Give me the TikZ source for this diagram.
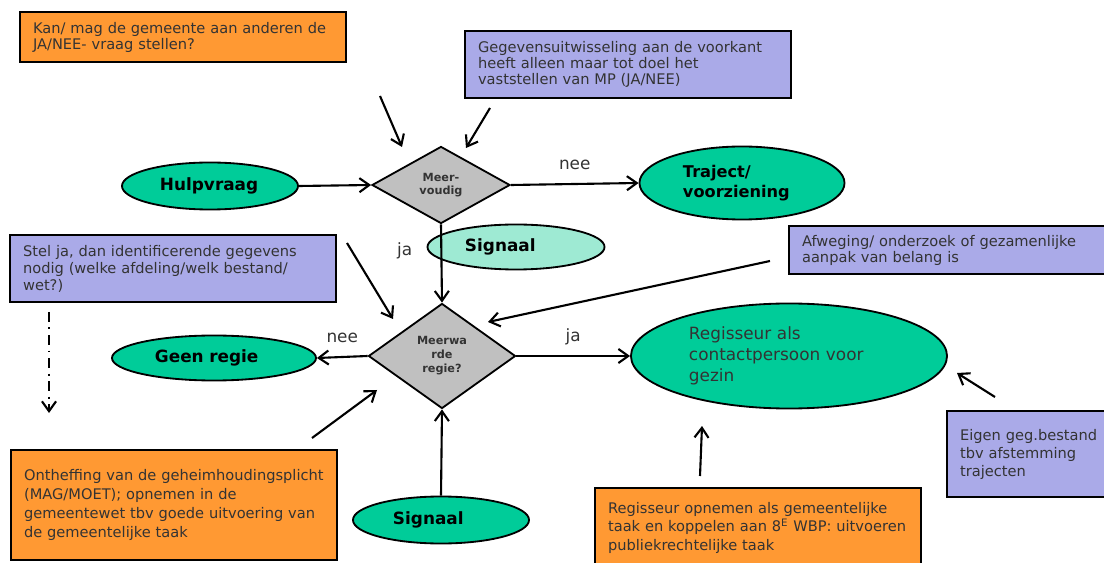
\documentclass[tikz,border=0pt]{standalone}
\usepackage{fontspec}
\setmainfont{DejaVu Sans}
\usetikzlibrary{arrows.meta,shapes.geometric}
\tikzset{>={Straight Barb[length=7pt,width=10pt]}}
\definecolor{oranje}{HTML}{FF9933}
\definecolor{paars}{HTML}{AAAAE8}
\definecolor{groen}{HTML}{00CC99}
\definecolor{lichtgroen}{HTML}{9EEAD3}
\definecolor{grijs}{HTML}{C0C0C0}
\definecolor{tekst}{HTML}{333333}
\tikzstyle{box} = [rectangle, draw=black, line width=1.5pt, anchor=north west, align=left, text width=7.5cm, inner xsep=0.325cm, inner ysep=0pt, text=tekst, font=\fontsize{10.4}{11.5}\selectfont]
\tikzstyle{oranjebox} = [box, fill=oranje]
\tikzstyle{paarsbox} = [box, fill=paars]
\tikzstyle{ovaal} = [ellipse, draw=black, line width=1.3pt, fill=groen, inner sep=0pt, align=left, font=\fontsize{12}{14}\selectfont\bfseries]
\tikzstyle{ruit} = [diamond, draw=black, line width=1.3pt, fill=grijs, inner sep=0pt, align=center, text=tekst, font=\fontsize{8}{9.5}\selectfont\bfseries]
\tikzstyle{arrow} = [line width=1.5pt, ->]
\tikzstyle{lbl} = [inner sep=0pt, text=tekst, font=\fontsize{12}{14}\selectfont]

\begin{document}
\begin{tikzpicture}[x=0.025cm, y=-0.025cm]

\path[use as bounding box, fill=white] (0,0) rectangle (1104,563);

% tekstvakken
\node (kanvraag) [oranjebox, minimum height=1.25cm] at (19,11) {Kan/ mag de gemeente aan anderen de\\JA/NEE- vraag stellen?};
\node (voorkant) [paarsbox, minimum height=1.675cm] at (464,30) {Gegevensuitwisseling aan de voorkant\\heeft alleen maar tot doel het\\vaststellen van MP (JA/NEE)};
\node (identificeren) [paarsbox, minimum height=1.675cm, font=\fontsize{10.4}{12}\selectfont] at (9,234) {Stel ja, dan identificerende gegevens\\nodig (welke afdeling/welk bestand/\\wet?)};
\node (afweging) [paarsbox, minimum height=1.2cm] at (788,225) {Afweging/ onderzoek of gezamenlijke\\aanpak van belang is};
\node (ontheffing) [oranjebox, minimum height=2.75cm, font=\fontsize{10.4}{13.5}\selectfont] at (10,449) {Ontheffing van de geheimhoudingsplicht\\(MAG/MOET); opnemen in de\\gemeentewet tbv goede uitvoering van\\de gemeentelijke taak};
\node (taak) [oranjebox, minimum height=1.975cm, font=\fontsize{10.4}{13.2}\selectfont] at (594,487) {Regisseur opnemen als gemeentelijke\\taak en koppelen aan 8\textsuperscript{E} WBP: uitvoeren\\publiekrechtelijke taak};
\node (eigen) [paarsbox, text width=3.6cm, minimum height=2.15cm, font=\fontsize{10.4}{12.8}\selectfont] at (946,410) {Eigen geg.bestand\\tbv afstemming\\trajecten};

% ovalen
\node (hulpvraag) [ovaal, minimum width=4.4cm, minimum height=1.175cm, text width=2.5cm] at (210,186) {Hulpvraag};
\node (traject) [ovaal, minimum width=5.125cm, minimum height=1.825cm, text width=2.95cm, font=\fontsize{11.5}{14}\selectfont\bfseries] at (742,183) {Traject/\\voorziening};
\node (signaal1) [ovaal, fill=lichtgroen, minimum width=4.425cm, minimum height=1.125cm, text width=2.55cm] at (516,247) {Signaal};
\node (geenregie) [ovaal, minimum width=5.1cm, minimum height=1.125cm, text width=2.95cm] at (214,358) {Geen regie};
\node (regisseur) [ovaal, minimum width=7.9cm, minimum height=2.625cm, text width=5cm, text=tekst, font=\fontsize{12}{15}\selectfont] at (789,356) {Regisseur als\\contactpersoon voor\\gezin};
\node (signaal2) [ovaal, minimum width=4.4cm, minimum height=1.175cm, text width=2.4cm] at (441,520) {Signaal};

% beslissingen
\node (meervoudig) [ruit, minimum width=3.45cm, minimum height=1.925cm] at (441,185) {Meer-\\voudig};
\node (meerwaarde) [ruit, minimum width=3.675cm, minimum height=2.625cm, font=\fontsize{8}{10}\selectfont\bfseries] at (442,356) {Meerwa\\rde\\regie?};

% losse pijlpunten
\coordinate (kanstart) at (380,96);
\coordinate (kaneind) at (402,147);
\coordinate (voorstart) at (490,108);
\coordinate (vooreind) at (466,148);
\coordinate (identstart) at (347,243);
\coordinate (identeind) at (393,319);
\coordinate (afwegstart) at (770,261);
\coordinate (afwegeind) at (488,322);
\coordinate (onthefstart) at (312,438);
\coordinate (onthefeind) at (377,390);
\coordinate (taakstart) at (700,476);
\coordinate (taakeind) at (702,426);
\coordinate (eigenstart) at (995,397);
\coordinate (eigeneind) at (957,373);
\coordinate (streepstart) at (49,312);
\coordinate (streepeind) at (49,413);

\draw [arrow] (hulpvraag.east) -- (meervoudig.west);
\draw [arrow] (meervoudig.east) -- node[lbl, anchor=base, yshift=10pt] {nee} (traject.west);
\draw [arrow] (meervoudig.south) -- node[lbl, pos=0.34, left=20pt] {ja} (meerwaarde.north);
\draw [arrow] (meerwaarde.west) -- node[lbl, anchor=base, yshift=10pt] {nee} (geenregie.east);
\draw [arrow] (meerwaarde.east) -- node[lbl, anchor=base, yshift=10pt] {ja} (regisseur.west);
\draw [arrow] (signaal2.north) -- (meerwaarde.south);

\draw [arrow] (kanstart) -- (kaneind);
\draw [arrow] (voorstart) -- (vooreind);
\draw [arrow] (identstart) -- (identeind);
\draw [arrow] (afwegstart) -- (afwegeind);
\draw [arrow] (onthefstart) -- (onthefeind);
\draw [arrow] (taakstart) -- (taakeind);
\draw [arrow] (eigenstart) -- (eigeneind);
\draw [arrow, dash pattern=on 7pt off 4pt on 1.4pt off 4pt] (streepstart) -- (streepeind);

\end{tikzpicture}
\end{document}
